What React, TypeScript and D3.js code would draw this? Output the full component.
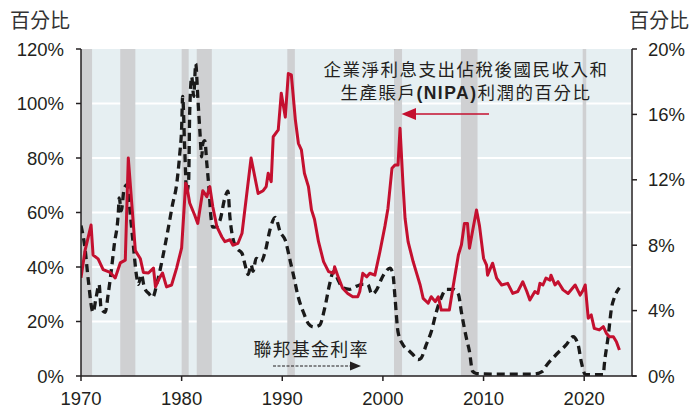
import * as d3 from 'd3'

// 企業淨利息支出佔利潤百分比 (left axis)
const profitYears = [
  1970.0, 1970.4, 1971.0, 1971.2, 1971.7, 1972.2, 1972.9, 1973.4, 1973.9, 1974.4, 1974.7,
  1975.4, 1975.9, 1976.2, 1976.7, 1977.2, 1977.4, 1977.8, 1978.1, 1978.5, 1979.0, 1979.5,
  1980.0, 1980.4, 1980.5, 1980.8, 1981.3, 1981.6, 1982.1, 1982.5, 1982.8, 1983.1, 1983.5,
  1984.0, 1984.3, 1984.8, 1985.1, 1985.6, 1986.0, 1986.9, 1987.6, 1988.1, 1988.4, 1988.6,
  1988.9, 1989.1, 1989.6, 1989.9, 1990.3, 1990.6, 1990.9, 1991.3, 1991.6, 1991.9, 1992.2,
  1992.6, 1992.9, 1993.2, 1993.6, 1994.1, 1994.6, 1995.1, 1995.2, 1995.6, 1996.0, 1996.5,
  1997.0, 1997.5, 1997.7, 1998.0, 1998.4, 1998.7, 1999.2, 1999.7, 2000.2, 2000.5, 2000.9,
  2001.2, 2001.5, 2001.7, 2002.0, 2002.2, 2002.5, 2003.0, 2003.3, 2003.7, 2004.0, 2004.5,
  2004.8, 2005.2, 2005.5, 2005.8, 2006.3, 2006.6, 2007.0, 2007.5, 2007.8, 2008.1, 2008.4,
  2008.6, 2008.9, 2009.3, 2009.6, 2010.0, 2010.3, 2010.4, 2010.9, 2011.3, 2011.8, 2012.4,
  2012.9, 2013.4, 2013.9, 2014.3, 2014.6, 2015.1, 2015.4, 2015.6, 2015.9, 2016.2, 2016.6,
  2016.7, 2017.1, 2017.4, 2017.9, 2018.4, 2019.1, 2019.6, 2019.9, 2020.1, 2020.4, 2020.7,
  2021.0, 2021.5, 2021.9, 2022.2, 2022.5, 2022.9, 2023.2, 2023.5
]
const profitShare = [
  36, 46, 55.4, 44.4, 43, 39, 38, 36, 41.5, 42.5, 80,
  46, 43, 38, 37.8, 39.6, 32.7, 36, 37.8, 32.7, 33.4, 39.6,
  47, 70.7, 70, 63.5, 59, 56, 68, 65.8, 69.5, 62, 54.8,
  51, 49.3, 50, 48, 48.7, 52.4, 80, 67, 68, 69.5, 74.4,
  71.3, 87.8, 90.3, 103.8, 95, 111, 110.5, 94, 85.4, 83, 74.4,
  69.5, 61, 57.5, 49.3, 42, 38.3, 37.7, 40.1, 35.9, 32.2, 30.3,
  29.1, 29.1, 31, 37.7, 36.4, 37.7, 37, 45.6, 55, 61.5, 76.2,
  77.4, 77.4, 90.9, 70, 57.9, 49.3, 42, 38.3, 33.4, 28.5, 26.7,
  29.1, 27.3, 29.1, 24.2, 24.2, 24.2, 33.4, 44.4, 48.1, 56, 56,
  46.9, 53, 60.9, 55, 43.2, 40.7, 37, 41.4, 35.9, 33.4, 34,
  30.3, 31, 34.6, 31, 27.9, 31, 30.3, 34, 33.4, 35.9, 35.2,
  37, 33.4, 34.6, 31.6, 30.3, 33.4, 29.7, 31.6, 33.4, 21.2, 22.4,
  17.5, 16.9, 18.1, 15.7, 14.4, 14.4, 12.6, 9.5
]

// 聯邦基金利率 (right axis)
const fedYears = [
  1970.0, 1970.4, 1970.7, 1971.2, 1971.5, 1971.8, 1972.0, 1972.4, 1972.7, 1973.0, 1973.3,
  1973.7, 1973.8, 1974.0, 1974.3, 1974.6, 1974.8, 1975.2, 1975.5, 1975.7, 1976.0, 1976.3,
  1976.8, 1977.1, 1977.6, 1978.1, 1978.6, 1979.1, 1979.5, 1979.8, 1980.0, 1980.1, 1980.3,
  1980.5, 1980.7, 1980.8, 1981.0, 1981.2, 1981.4, 1981.6, 1981.8, 1982.0, 1982.1, 1982.3,
  1982.5, 1982.7, 1982.9, 1983.1, 1983.3, 1983.8, 1984.3, 1984.6, 1984.8, 1985.1, 1985.5,
  1986.0, 1986.3, 1986.6, 1986.9, 1987.1, 1987.4, 1987.9, 1988.3, 1988.8, 1989.3, 1989.8,
  1990.3, 1990.8, 1991.1, 1991.6, 1992.1, 1992.6, 1993.1, 1993.7, 1994.2, 1994.7, 1995.1,
  1995.6, 1996.0, 1996.7, 1997.4, 1998.0, 1998.5, 1998.9, 1999.4, 1999.9, 2000.3, 2000.7,
  2001.0, 2001.2, 2001.5, 2002.0, 2002.5, 2003.0, 2003.5, 2003.8, 2004.3, 2004.8, 2005.3,
  2005.8, 2006.3, 2007.0, 2007.5, 2007.8, 2008.3, 2008.6, 2008.9, 2009.3, 2011.0, 2013.0,
  2015.0, 2015.9, 2016.2, 2017.2, 2018.2, 2018.9, 2019.4, 2019.7, 2020.1, 2021.0, 2021.9,
  2022.0, 2022.4, 2022.7, 2023.0, 2023.5
]
const fedFunds = [
  9.2, 7.8, 6, 3.9, 4.8, 5.6, 4.1, 3.9, 5, 6.4, 8,
  9.9, 10.9, 10.1, 11.5, 11.7, 10.5, 8, 6.2, 5.6, 6.2, 5.4,
  5, 4.8, 5.8, 7.2, 8.8, 10.5, 11.7, 13.5, 15.2, 17.1, 14,
  11.2, 12, 16.1, 18.3, 17.1, 19.1, 17.1, 15.1, 13.4, 14.2, 14.4,
  13, 11.6, 9.8, 9.1, 9.1, 9.5, 10.9, 11.3, 9.7, 8.4, 7.8,
  7.5, 6.8, 6.2, 6.8, 6.4, 7.2, 7, 7.6, 9, 9.7, 8.8,
  8.3, 7, 6.2, 4.8, 3.9, 3.2, 3, 3.1, 4.1, 5.6, 6.4,
  5.8, 5.4, 5.3, 5.5, 5.6, 5.6, 5, 5.3, 6, 6.4, 6.6,
  6.2, 4.8, 2.7, 1.9, 1.6, 1.3, 1, 1.1, 1.9, 2.7, 3.9,
  4.8, 5.3, 5.3, 5, 3.9, 2.3, 1.5, 0.3, 0.15, 0.12, 0.12,
  0.12, 0.3, 0.6, 1.3, 1.9, 2.4, 1.9, 0.9, 0.1, 0.08, 0.08,
  0.7, 2.5, 4.1, 4.8, 5.4
]

// 經濟衰退期
const recessionStart = [1970.0, 1973.9, 1980.0, 1981.5, 1990.5, 2001.1, 2007.75, 2019.85]
const recessionEnd = [1971.1, 1975.4, 1980.7, 1983.0, 1991.25, 2001.9, 2009.4, 2020.2]

const leftTicks = [0, 20, 40, 60, 80, 100, 120]
const rightTicks = [0, 4, 8, 12, 16, 20]
const yearTicks = [1970, 1980, 1990, 2000, 2010, 2020]

const W = 691
const H = 410
const left = 81
const right = 632
const top = 49
const bottom = 376

const NUM_FONT = '"Liberation Sans", Arial, sans-serif'
const CJK_FONT = '"Noto Sans CJK TC", "Noto Sans CJK SC", sans-serif'
const RED = '#C4102F'
const INK = '#231F20'

export default function App() {
  const x = d3.scaleLinear().domain([1970, 2024.75]).range([left, right])
  const yL = d3.scaleLinear().domain([0, 120]).range([bottom, top])
  const yR = d3.scaleLinear().domain([0, 20]).range([bottom, top])

  const redLine = d3.line<number>()
    .x((_, i) => x(profitYears[i]))
    .y(d => yL(d))
    .curve(d3.curveLinear)

  const fedLine = d3.line<number>()
    .x((_, i) => x(fedYears[i]))
    .y(d => yR(d))
    .curve(d3.curveMonotoneX)

  return (
    <svg width={W} height={H} style={{ position: 'absolute', left: 0, top: 0, background: '#fff' }}>
      <defs>
        <clipPath id="plot-clip">
          <rect x={left} y={top} width={right - left} height={bottom - top} />
        </clipPath>
      </defs>

      <text x={10} y={28} fontFamily={CJK_FONT} fontSize={20} fill="#333">百分比</text>
      <text x={689} y={28} textAnchor="end" fontFamily={CJK_FONT} fontSize={20} fill="#333">百分比</text>

      <rect x={left} y={top} width={right - left - 1} height={bottom - top} fill="#E6EFF2" />

      {leftTicks.slice(1, -1).map(t => (
        <line key={t} x1={left} x2={right} y1={yL(t)} y2={yL(t)} stroke="#fff" strokeWidth={2} />
      ))}

      {recessionStart.map((s, i) => (
        <rect key={s} x={x(s)} y={top} width={x(recessionEnd[i]) - x(s)} height={bottom - top} fill="#CFD0D2" />
      ))}

      <g clipPath="url(#plot-clip)">
        <path d={fedLine(fedFunds) ?? ''} fill="none" stroke="#1A1A1A" strokeWidth={3.3}
          strokeDasharray="8 5" strokeLinejoin="round" />
        <path d={redLine(profitShare) ?? ''} fill="none" stroke={RED} strokeWidth={3}
          strokeLinejoin="round" />
      </g>

      {/* axes */}
      <line x1={left} x2={left} y1={top} y2={bottom} stroke={INK} strokeWidth={1.5} />
      <line x1={right} x2={right} y1={top} y2={bottom} stroke={INK} strokeWidth={1.5} />
      <line x1={left} x2={right + 4} y1={bottom} y2={bottom} stroke={INK} strokeWidth={1.5} />

      {leftTicks.map(t => (
        <g key={t}>
          <line x1={left - 5} x2={left} y1={yL(t)} y2={yL(t)} stroke={INK} strokeWidth={1.5} />
          <text x={64} y={yL(t) + 6.5} textAnchor="end" fontFamily={NUM_FONT} fontSize={18.5} fill={INK}>{t}%</text>
        </g>
      ))}
      {rightTicks.map(t => (
        <g key={t}>
          <line x1={right} x2={right + 5} y1={yR(t)} y2={yR(t)} stroke={INK} strokeWidth={1.5} />
          <text x={648} y={yR(t) + 6.5} fontFamily={NUM_FONT} fontSize={18.5} fill={INK}>{t}%</text>
        </g>
      ))}
      {yearTicks.map(t => (
        <g key={t}>
          <line x1={x(t)} x2={x(t)} y1={bottom} y2={bottom + 5} stroke={INK} strokeWidth={1.5} />
          <text x={x(t)} y={405} textAnchor="middle" fontFamily={NUM_FONT} fontSize={18.5} fill={INK}>{t}</text>
        </g>
      ))}

      {/* annotation: profit share */}
      <text x={466} y={76} textAnchor="middle" fontFamily={CJK_FONT} fontSize={17.5} letterSpacing={1.5} fill={INK}>
        企業淨利息支出佔稅後國民收入和
      </text>
      <text x={466} y={99} textAnchor="middle" fontFamily={CJK_FONT} fontSize={17.5} letterSpacing={1.5} fill={INK}>
        生產賬戶<tspan fontFamily={NUM_FONT} fontWeight="bold">(NIPA)</tspan>利潤的百分比
      </text>
      <line x1={414} x2={489} y1={114} y2={114} stroke={RED} strokeWidth={1.5} />
      <path d="M401.5,114 L416,108 L416,120 Z" fill={RED} />

      {/* annotation: fed funds */}
      <text x={311} y={356} textAnchor="middle" fontFamily={CJK_FONT} fontSize={18} letterSpacing={1.2} fill={INK}>
        聯邦基金利率
      </text>
      <line x1={273} x2={351} y1={366} y2={366} stroke={INK} strokeWidth={1} strokeDasharray="3 1.5" />
      <path d="M361,366 L350,361.5 L350,370.5 Z" fill={INK} />
    </svg>
  )
}
